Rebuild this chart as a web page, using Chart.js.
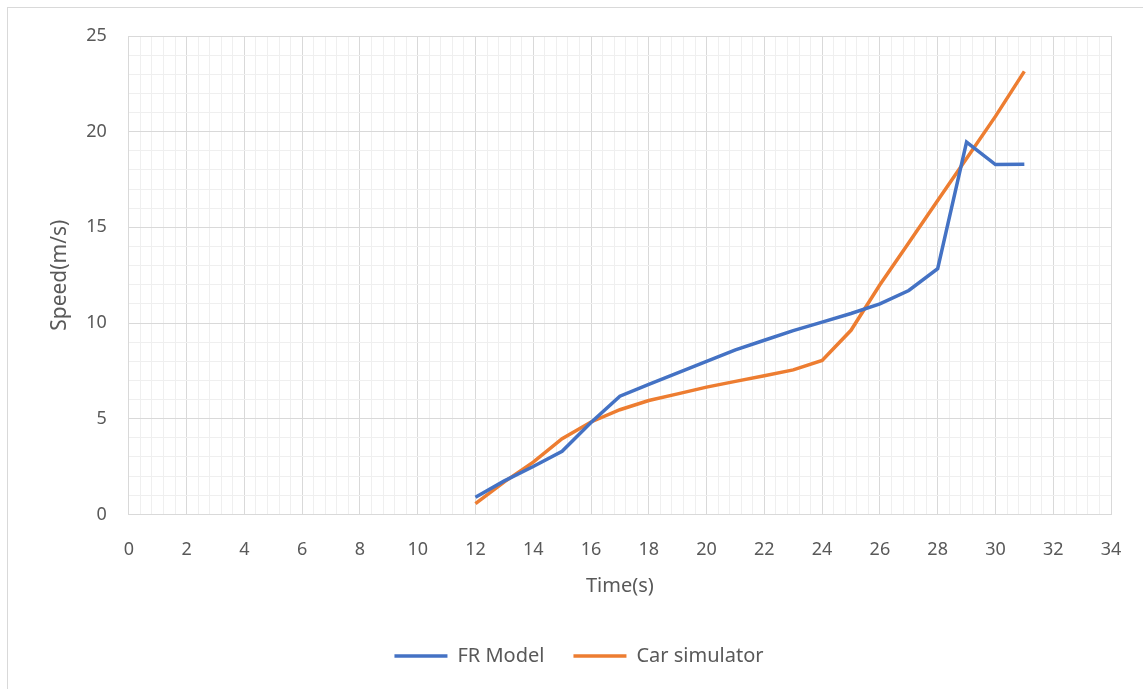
<!DOCTYPE html>
<html lang="en">
  <head>
    <meta charset="UTF-8" />
    <title>Speed vs Time</title>
    <script src="https://cdn.jsdelivr.net/npm/chart.js@4.4.0/dist/chart.umd.min.js"></script>
    <style>
      body { margin: 0; background: #fff; overflow: hidden; }
      .frame { position: absolute; left: 7px; top: 7px; width: 1150px; height: 700px; border: 1px solid #d9d9d9; }
      .chart-view { position: absolute; left: 0; top: 0; width: 1143px; height: 689px; }
    </style>
  </head>
  <body>
    <div class="frame"></div>
    <div class="chart-view">
      <canvas id="chart" width="1143" height="689"></canvas>
    </div>

    <script>
      //data
      const times = [12, 13, 14, 15, 16, 17, 18, 19, 20, 21, 22, 23, 24, 25, 26, 27, 28, 29, 30, 31];
      const frModel = [0.9, 1.75, 2.5, 3.3, 4.8, 6.18, 6.8, 7.4, 8.0, 8.6, 9.1, 9.6, 10.05, 10.5, 11.0, 11.7, 12.84, 19.46, 18.28, 18.3];
      const carSimulator = [0.56, 1.7, 2.73, 3.96, 4.83, 5.47, 5.95, 6.3, 6.65, 6.95, 7.25, 7.55, 8.05, 9.62, 12.0, 14.2, 16.4, 18.6, 20.8, 23.15];
      const seriesNames = ['FR Model', 'Car simulator'];

      const FONT = "'Noto Sans', 'Open Sans', sans-serif";
      const TEXT = '#595959';
      const MAJOR = '#d9d9d9';
      const MINOR = '#efefef';

      const toPoints = (vals) => times.map((t, i) => ({ x: t, y: vals[i] }));
      const isMultiple = (v, m) => Math.abs(v / m - Math.round(v / m)) < 1e-6;

      const data = {
        datasets: [
          {
            label: seriesNames[0],
            data: toPoints(frModel),
            borderColor: '#4472C4',
            backgroundColor: '#4472C4',
            borderWidth: 3.5,
            pointRadius: 0,
            tension: 0
          },
          {
            label: seriesNames[1],
            data: toPoints(carSimulator),
            borderColor: '#ED7D31',
            backgroundColor: '#ED7D31',
            borderWidth: 3.5,
            pointRadius: 0,
            tension: 0
          }
        ]
      };

      //config
      const config = {
        type: 'line',
        data: data,
        options: {
          responsive: false,
          animation: false,
          layout: { padding: { left: 47, right: 32, top: 36, bottom: 13 } },
          plugins: {
            legend: {
              position: 'bottom',
              labels: {
                usePointStyle: true,
                pointStyle: 'line',
                pointStyleWidth: 53,
                color: TEXT,
                font: { family: FONT, size: 20 },
                padding: 29
              }
            },
            tooltip: { enabled: false }
          },
          scales: {
            x: {
              type: 'linear',
              min: 0,
              max: 34,
              afterFit: (s) => {
                s.paddingRight = 0;
              },
              ticks: {
                stepSize: 0.4,
                autoSkip: false,
                maxRotation: 0,
                color: TEXT,
                font: { family: FONT, size: 18 },
                padding: 25,
                callback: (v) => (isMultiple(v, 2) ? Math.round(v) : '')
              },
              grid: {
                drawTicks: false,
                color: (c) => (isMultiple(c.tick.value, 2) ? MAJOR : MINOR),
                lineWidth: 1
              },
              border: { color: MAJOR },
              title: {
                display: true,
                text: 'Time(s)',
                color: TEXT,
                font: { family: FONT, size: 20 },
                padding: { top: -12, bottom: 19 }
              }
            },
            y: {
              min: 0,
              max: 25,
              ticks: {
                stepSize: 1,
                autoSkip: false,
                color: TEXT,
                font: { family: FONT, size: 18 },
                padding: 22,
                callback: (v) => (isMultiple(v, 5) ? v : '')
              },
              grid: {
                drawTicks: false,
                color: (c) => (isMultiple(c.tick.value, 5) ? MAJOR : MINOR),
                lineWidth: 1
              },
              border: { color: MAJOR },
              title: {
                display: true,
                text: 'Speed(m/s)',
                color: TEXT,
                font: { family: FONT, size: 21 },
                padding: { top: 0, bottom: -8 }
              }
            }
          }
        }
      };

      //init
      const ctx = document.getElementById('chart');
      const chart = new Chart(ctx, config);
    </script>
  </body>
</html>
